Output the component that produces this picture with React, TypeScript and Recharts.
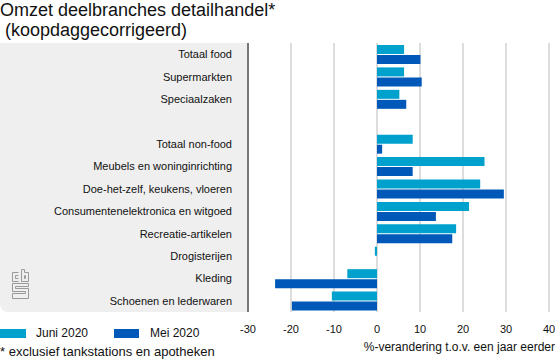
import React from 'react';
import { BarChart, Bar, XAxis, YAxis, CartesianGrid } from 'recharts';

const categories = [
  'Totaal food',
  'Supermarkten',
  'Speciaalzaken',
  ' ',
  'Totaal non-food',
  'Meubels en woninginrichting',
  'Doe-het-zelf, keukens, vloeren',
  'Consumentenelektronica en witgoed',
  'Recreatie-artikelen',
  'Drogisterijen',
  'Kleding',
  'Schoenen en lederwaren',
];
const juni2020 = [6.3, 6.3, 5.2, null, 8.3, 25.0, 24.0, 21.4, 18.4, -0.5, -6.9, -10.5];
const mei2020 = [10.1, 10.4, 6.8, null, 1.2, 8.3, 29.5, 13.7, 17.5, 0, -23.7, -19.8];
const xTicks = [-30, -20, -10, 0, 10, 20, 30, 40];

const data = categories.map((name, i) => ({ name, juni: juni2020[i], mei: mei2020[i] }));

const FONT = '"Liberation Sans", Arial, Helvetica, sans-serif';
const JUNI = '#00a1cd';
const MEI = '#0058b8';

const CatTick = ({ y, payload }: any) => (
  <text x={232} y={y} dy={4} textAnchor="end" fontSize={11} fontFamily={FONT} fill="#111">
    {payload.value}
  </text>
);

const CbsLogo = () => (
  <svg width={20} height={32} style={{ position: 'absolute', left: 11, top: 269 }}>
    <g fill="none" stroke="#9a9a9a" strokeWidth={1}>
      <path d="M7.5 3.5 H1.5 V12.5 H7.5 M7.5 6.5 H4.5 V9.5 H7.5" />
      <path d="M10.5 0.5 V12.5 H17.5 V3.5 H13.5 V0.5 Z M13.5 6.5 H14.5 V9.5 H13.5 Z" />
      <path d="M17.5 14.5 H1.5 V22.5 H14.5 V24.5 H1.5 V29.5 H17.5 V19.5 H4.5 V17.5 H17.5 Z" />
    </g>
  </svg>
);

export default function App() {
  return (
    <div style={{ position: 'absolute', left: 0, top: 0, width: 555, height: 359, background: '#fff', fontFamily: FONT }}>
      <div style={{ position: 'absolute', left: 0, top: 43, width: 247, height: 269, background: '#efefef', borderRadius: '0 0 0 8px' }} />
      <CbsLogo />
      <div style={{ position: 'absolute', left: 0, top: 0, fontSize: 18, lineHeight: '20px', color: '#111' }}>
        Omzet deelbranches detailhandel*
        <br />
        &nbsp;(koopdaggecorrigeerd)
      </div>
      <BarChart
        width={555}
        height={359}
        data={data}
        layout="vertical"
        margin={{ top: 43, right: 6, bottom: 17, left: 0 }}
        barGap={1}
        barCategoryGap={2}
        style={{ position: 'absolute', left: 0, top: 0 }}
      >
        <CartesianGrid horizontal={false} stroke="#d2d2d2" strokeWidth={1.5} />
        <XAxis
          type="number"
          domain={[-30, 40]}
          ticks={xTicks}
          axisLine={false}
          tickLine={false}
          tickMargin={7}
          tick={{ fontSize: 11, fontFamily: FONT, fill: '#111' }}
        />
        <YAxis
          type="category"
          dataKey="name"
          width={248}
          axisLine={{ stroke: '#555', strokeWidth: 1.5 }}
          tickLine={false}
          tick={<CatTick />}
          interval={0}
        />
        <Bar dataKey="juni" fill={JUNI} barSize={9} isAnimationActive={false} />
        <Bar dataKey="mei" fill={MEI} barSize={9} isAnimationActive={false} />
      </BarChart>
      <div style={{ position: 'absolute', right: 0, top: 340, fontSize: 12, color: '#111', whiteSpace: 'nowrap' }}>
        %-verandering t.o.v. een jaar eerder
      </div>
      <div style={{ position: 'absolute', left: 0, top: 329, width: 26, height: 9, background: JUNI }} />
      <div style={{ position: 'absolute', left: 36, top: 326, fontSize: 12, color: '#111' }}>Juni 2020</div>
      <div style={{ position: 'absolute', left: 114, top: 329, width: 25, height: 9, background: MEI }} />
      <div style={{ position: 'absolute', left: 150, top: 326, fontSize: 12, color: '#111' }}>Mei 2020</div>
      <div style={{ position: 'absolute', left: 0, top: 344, fontSize: 13, color: '#111', whiteSpace: 'nowrap' }}>
        * exclusief tankstations en apotheken
      </div>
    </div>
  );
}
